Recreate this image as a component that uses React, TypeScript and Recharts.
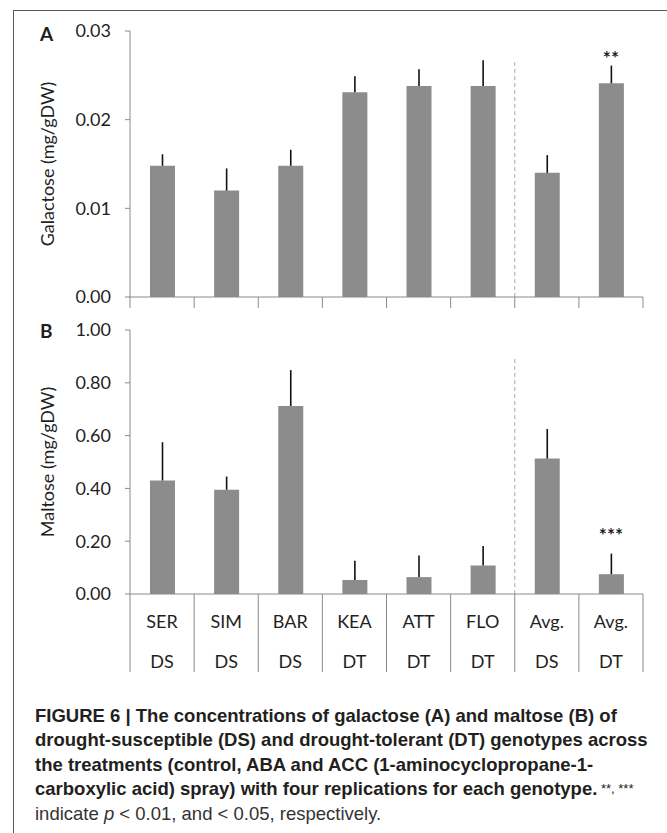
import { Bar, BarChart, ErrorBar, ReferenceDot, ReferenceLine, XAxis, YAxis } from "recharts"

// categories
const genotypes = ["SER", "SIM", "BAR", "KEA", "ATT", "FLO", "Avg.", "Avg."]
const groups = ["DS", "DS", "DS", "DT", "DT", "DT", "DS", "DT"]

// panel A, galactose (mg/gDW), mean + upper error
const galactose = [0.0148, 0.012, 0.0148, 0.0231, 0.0238, 0.0238, 0.014, 0.0241]
const galactoseErr = [0.0013, 0.0025, 0.0018, 0.0018, 0.0019, 0.0029, 0.002, 0.002]
const galactoseTicks = [0, 0.01, 0.02, 0.03]

// panel B, maltose (mg/gDW)
const maltose = [0.43, 0.395, 0.712, 0.053, 0.064, 0.108, 0.513, 0.075]
const maltoseErr = [0.145, 0.05, 0.136, 0.073, 0.082, 0.074, 0.112, 0.078]
const maltoseTicks = [0, 0.2, 0.4, 0.6, 0.8, 1.0]

// significance marks + DS/DT divider (data units)
const SIG_KEY = "Avg. DT"
const DIVIDER_KEY = "Avg. DS"
const galactoseSig = { label: "**", y: 0.0274 }
const maltoseSig = { label: "***", y: 0.238 }
const galactoseDividerTop = 0.0268
const maltoseDividerTop = 0.898

const rows = genotypes.map((g, i) => ({
  key: `${g} ${groups[i]}`,
  name: g,
  group: groups[i],
  galactose: galactose[i],
  galErr: [0, galactoseErr[i]],
  maltose: maltose[i],
  malErr: [0, maltoseErr[i]],
}))

const W = 667
const Y_W = 130
const RIGHT = 24
const BAND = (W - Y_W - RIGHT) / genotypes.length

const FONT = "Lato, 'Open Sans', sans-serif"
const CAPTION_FONT = "'Liberation Sans', Arial, Helvetica, sans-serif"
const AXIS = "#8a8a8a"
const BAR = "#8c8c8c"
const INK = "#1f1f1f"

const tickStyle = { fontSize: 18, fill: INK, fontFamily: FONT }

function axisTitle(text: string) {
  return (props: any) => {
    const vb = props.viewBox
    const cx = 47
    const cy = vb.y + vb.height / 2
    return (
      <text
        x={cx}
        y={cy}
        transform={`rotate(-90, ${cx}, ${cy})`}
        textAnchor="middle"
        dominantBaseline="central"
        fontSize={18}
        fontFamily={FONT}
        fill={INK}
      >
        {text}
      </text>
    )
  }
}

// category boundaries (+ optional two-row labels) drawn from each tick's centre
function makeTick(len: number, labels: boolean) {
  return (props: any) => {
    const { x, y, index } = props
    const l = x - BAND / 2
    const r = x + BAND / 2
    return (
      <g>
        <line x1={l} x2={l} y1={y} y2={y + len} stroke={AXIS} strokeWidth={1} />
        {index === genotypes.length - 1 && <line x1={r} x2={r} y1={y} y2={y + len} stroke={AXIS} />}
        {labels && (
          <text x={x} y={y + 34} textAnchor="middle" {...tickStyle}>
            {genotypes[index]}
          </text>
        )}
        {labels && (
          <text x={x} y={y + 74} textAnchor="middle" {...tickStyle}>
            {groups[index]}
          </text>
        )}
      </g>
    )
  }
}

const topTick = makeTick(11, false)
const bottomTick = makeTick(78, true)

function Stars({ cx, cy, label }: any) {
  return (
    <text x={cx} y={cy + 11} textAnchor="middle" fontSize={19} fontWeight={700} fontFamily={FONT} fill={INK}>
      {label}
    </text>
  )
}

function Panel({
  dataKey,
  errKey,
  ticks,
  title,
  sig,
  dividerTop,
  height,
  top,
  xHeight,
  tick,
}: any) {
  const max = ticks[ticks.length - 1]
  return (
    <BarChart width={W} height={height} data={rows} margin={{ top, right: RIGHT, bottom: 0, left: 0 }}>
      <XAxis
        dataKey="key"
        interval={0}
        height={xHeight}
        tickLine={false}
        tickSize={0}
        tickMargin={0}
        axisLine={{ stroke: AXIS }}
        tick={tick}
      />
      <YAxis
        width={Y_W}
        domain={[0, max]}
        ticks={ticks}
        interval={0}
        tickFormatter={(v: number) => v.toFixed(2)}
        tickSize={5}
        tickMargin={14}
        axisLine={{ stroke: AXIS }}
        tickLine={{ stroke: AXIS }}
        tick={tickStyle}
        label={{ content: axisTitle(title) }}
      />
      <ReferenceLine
        segment={[
          { x: DIVIDER_KEY, y: 0 },
          { x: DIVIDER_KEY, y: dividerTop },
        ]}
        position="start"
        stroke="#a8a8a8"
        strokeDasharray="4 3"
      />
      <Bar dataKey={dataKey} fill={BAR} barSize={25} isAnimationActive={false}>
        <ErrorBar dataKey={errKey} width={0} stroke="#111" strokeWidth={1.6} isAnimationActive={false} />
      </Bar>
      <ReferenceDot
        x={SIG_KEY}
        y={sig.y}
        r={0}
        fill="none"
        stroke="none"
        label={{ content: (p: any) => <Stars cx={p.viewBox.x} cy={p.viewBox.y} label={sig.label} /> }}
      />
    </BarChart>
  )
}

export default function App() {
  return (
    <div
      style={{
        position: "absolute",
        left: 0,
        top: 0,
        width: W,
        height: 833,
        background: "#fff",
        overflow: "hidden",
        fontFamily: FONT,
      }}
    >
      <div
        style={{
          position: "absolute",
          left: 13,
          top: 10,
          width: W - 13,
          height: 833 - 10,
          borderLeft: "1px solid #5a5a5a",
          borderTop: "1px solid #5a5a5a",
        }}
      />
      <div style={{ position: "absolute", left: 0, top: 0 }}>
        <Panel
          dataKey="galactose"
          errKey="galErr"
          ticks={galactoseTicks}
          title="Galactose (mg/gDW)"
          sig={galactoseSig}
          dividerTop={galactoseDividerTop}
          height={315}
          top={31}
          xHeight={18}
          tick={topTick}
        />
      </div>
      <div style={{ position: "absolute", left: 0, top: 315 }}>
        <Panel
          dataKey="maltose"
          errKey="malErr"
          ticks={maltoseTicks}
          title="Maltose (mg/gDW)"
          sig={maltoseSig}
          dividerTop={maltoseDividerTop}
          height={365}
          top={15}
          xHeight={86}
          tick={bottomTick}
        />
      </div>
      <div style={{ position: "absolute", left: 40, top: 22, fontWeight: 700, fontSize: 19, color: INK }}>A</div>
      <div style={{ position: "absolute", left: 40, top: 319, fontWeight: 700, fontSize: 19, color: INK }}>B</div>
      <div
        style={{
          position: "absolute",
          left: 35,
          top: 704,
          fontFamily: CAPTION_FONT,
          fontSize: 18.5,
          lineHeight: "24.4px",
          color: "#231f20",
          whiteSpace: "nowrap",
        }}
      >
        <div style={{ fontWeight: 700 }}>FIGURE 6 | The concentrations of galactose (A) and maltose (B) of</div>
        <div style={{ fontWeight: 700 }}>drought-susceptible (DS) and drought-tolerant (DT) genotypes across</div>
        <div style={{ fontWeight: 700 }}>the treatments (control, ABA and ACC (1-aminocyclopropane-1-</div>
        <div>
          <span style={{ fontWeight: 700 }}>carboxylic acid) spray) with four replications for each genotype.</span>
          <span style={{ fontSize: 13, verticalAlign: "top" }}> **, ***</span>
        </div>
        <div style={{ color: "#333" }}>
          indicate <i>p</i> &lt; 0.01, and &lt; 0.05, respectively.
        </div>
      </div>
    </div>
  )
}
